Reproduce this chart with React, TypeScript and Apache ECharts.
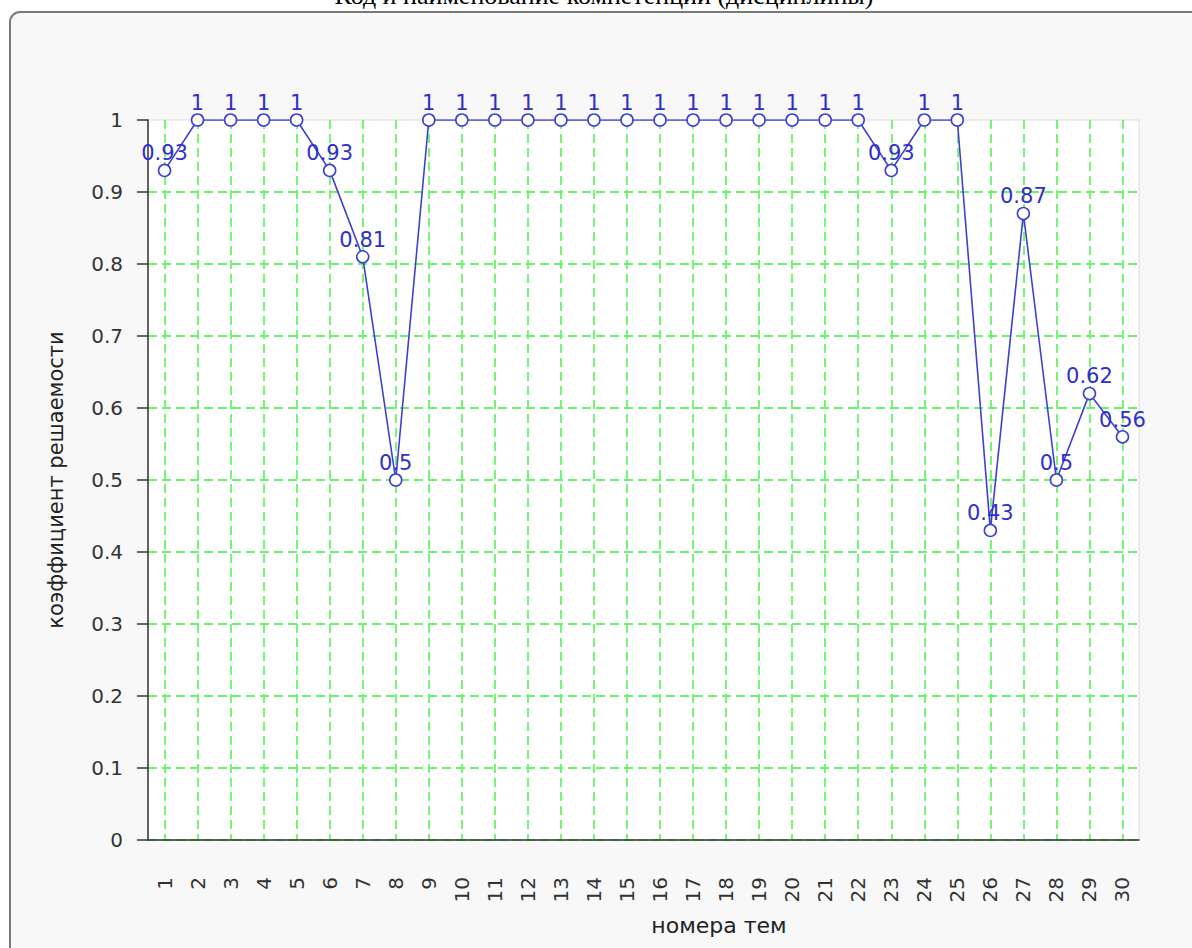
import React, { useEffect, useRef } from "react";
import * as echarts from "echarts";

const titleText = "Код и наименование компетенции (дисциплины)";
const xAxisName = "номера тем";
const yAxisName = "коэффициент решаемости";
const topics = [
  "1", "2", "3", "4", "5", "6", "7", "8", "9", "10",
  "11", "12", "13", "14", "15", "16", "17", "18", "19", "20",
  "21", "22", "23", "24", "25", "26", "27", "28", "29", "30",
];
const solvability = [
  0.93, 1, 1, 1, 1, 0.93, 0.81, 0.5, 1, 1,
  1, 1, 1, 1, 1, 1, 1, 1, 1, 1,
  1, 1, 0.93, 1, 1, 0.43, 0.87, 0.5, 0.62, 0.56,
];
const yMin = 0;
const yMax = 1;
const yStep = 0.1;

const FONT = "DejaVu Sans, Verdana, sans-serif";
const BLUE = "#4040d0";
const LABEL_BLUE = "#2f2fcc";
const GREEN = "#66f566";

export default function App() {
  const ref = useRef<HTMLDivElement>(null);
  useEffect(() => {
    if (!ref.current) return;
    const chart = echarts.init(ref.current, undefined, { renderer: "svg" });
    chart.setOption({
      animation: false,
      backgroundColor: "#ffffff",
      graphic: [
        {
          type: "rect",
          z: -10,
          shape: { x: 10, y: 12, width: 1400, height: 1000, r: 10 },
          style: { fill: "#f8f8f8", stroke: "#7a7a7a", lineWidth: 2 },
        },
        {
          type: "text",
          z: 10,
          x: 604,
          y: 8,
          style: {
            text: titleText,
            fill: "#000",
            font: "26px 'Liberation Serif', 'Times New Roman', serif",
            textAlign: "center",
            textVerticalAlign: "bottom",
          },
        },
        {
          type: "text",
          z: 10,
          x: 719,
          y: 925,
          style: {
            text: xAxisName,
            fill: "#222",
            font: `22px ${FONT}`,
            textAlign: "center",
            textVerticalAlign: "middle",
          },
        },
      ],
      grid: {
        left: 148,
        right: 53,
        top: 120,
        bottom: 108,
        show: true,
        backgroundColor: "#ffffff",
        borderColor: "#dcdcdc",
        borderWidth: 1,
      },
      xAxis: {
        type: "category",
        data: topics,
        boundaryGap: true,
        axisLine: { lineStyle: { color: "#333", width: 1.5 } },
        axisTick: { alignWithLabel: true, length: 11, lineStyle: { color: "#333", width: 1.5 } },
        axisLabel: {
          rotate: 90,
          margin: 37,
          color: "#333",
          fontSize: 20,
          fontFamily: FONT,
          interval: 0,
        },
        splitLine: {
          show: true,
          alignWithLabel: true,
          lineStyle: { color: GREEN, type: [9, 5], width: 1.8 },
        },
      },
      yAxis: {
        type: "value",
        min: yMin,
        max: yMax,
        interval: yStep,
        name: yAxisName,
        nameLocation: "middle",
        nameGap: 82,
        nameRotate: 90,
        nameTextStyle: { color: "#222", fontSize: 21, fontFamily: FONT },
        axisLine: { show: true, lineStyle: { color: "#333", width: 1.5 } },
        axisTick: { show: true, length: 11, lineStyle: { color: "#333", width: 1.5 } },
        axisLabel: { margin: 25, color: "#333", fontSize: 20, fontFamily: FONT },
        splitLine: {
          show: true,
          showMaxLine: false,
          lineStyle: { color: GREEN, type: [9, 5], width: 1.8 },
        },
      },
      series: [
        {
          type: "line",
          data: solvability,
          symbol: "circle",
          symbolSize: 12,
          lineStyle: { color: BLUE, width: 1.6 },
          itemStyle: { color: "#ffffff", borderColor: BLUE, borderWidth: 1.6 },
          label: {
            show: true,
            position: "top",
            distance: 0,
            color: LABEL_BLUE,
            fontSize: 21,
            fontFamily: FONT,
          },
          z: 5,
        },
      ],
    });
    return () => chart.dispose();
  }, []);
  return (
    <div
      ref={ref}
      style={{ position: "fixed", left: 0, top: 0, width: 1192, height: 948 }}
    />
  );
}
